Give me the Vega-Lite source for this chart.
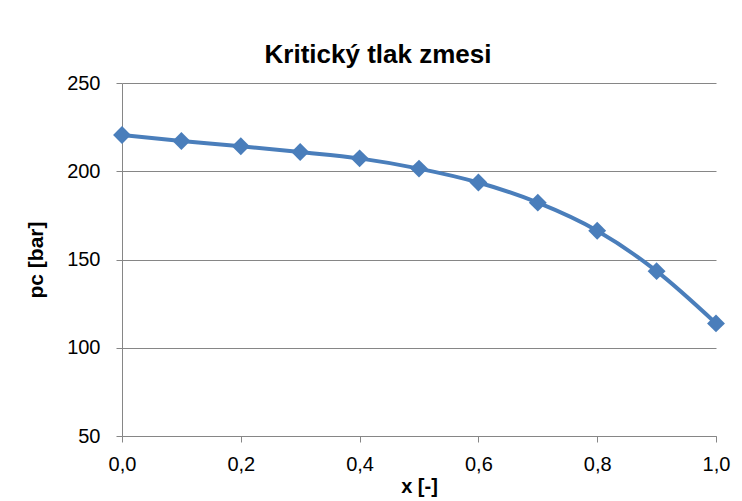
{
  "$schema": "https://vega.github.io/schema/vega-lite/v6.json",
  "width": 594,
  "height": 353,
  "autosize": {"type": "none"},
  "padding": {"left": 122, "top": 83, "right": 26, "bottom": 65},
  "background": "white",
  "title": {
    "text": "Kritický tlak zmesi",
    "font": "Liberation Sans",
    "fontSize": 26,
    "fontWeight": "bold",
    "color": "#000000",
    "anchor": "middle",
    "dx": -41,
    "offset": 5
  },
  "data": {
    "values": [
      {"x": 0.0, "pc": 220.5},
      {"x": 0.1, "pc": 217.1},
      {"x": 0.2, "pc": 214.2},
      {"x": 0.3, "pc": 210.9},
      {"x": 0.4, "pc": 207.3},
      {"x": 0.5, "pc": 201.5},
      {"x": 0.6, "pc": 193.6},
      {"x": 0.7, "pc": 182.2},
      {"x": 0.8, "pc": 166.3},
      {"x": 0.9, "pc": 143.4},
      {"x": 1.0, "pc": 113.8}
    ]
  },
  "encoding": {
    "x": {
      "field": "x",
      "type": "quantitative",
      "scale": {"domain": [0, 1], "nice": false, "zero": false},
      "axis": {
        "title": "x [-]",
        "values": [0, 0.2, 0.4, 0.6, 0.8, 1.0],
        "labelExpr": "replace(format(datum.value, '.1f'), '.', ',')",
        "labelFlush": false,
        "grid": false,
        "domainColor": "#868686",
        "tickColor": "#868686",
        "tickSize": 6,
        "labelFont": "Liberation Sans",
        "labelFontSize": 20,
        "labelColor": "#000000",
        "labelPadding": 12,
        "titleFont": "Liberation Sans",
        "titleFontSize": 20,
        "titleFontWeight": "bold",
        "titleColor": "#000000",
        "titlePadding": 2
      }
    },
    "y": {
      "field": "pc",
      "type": "quantitative",
      "scale": {"domain": [50, 250], "nice": false, "zero": false},
      "axis": {
        "title": "pc [bar]",
        "values": [50, 100, 150, 200, 250],
        "grid": true,
        "gridColor": "#868686",
        "gridWidth": 1,
        "domainColor": "#868686",
        "tickColor": "#868686",
        "tickSize": 6,
        "labelFont": "Liberation Sans",
        "labelFontSize": 20,
        "labelColor": "#000000",
        "labelPadding": 16,
        "titleFont": "Liberation Sans",
        "titleFontSize": 21,
        "titleFontWeight": "bold",
        "titleColor": "#000000",
        "titlePadding": 20
      }
    }
  },
  "layer": [
    {
      "mark": {"type": "line", "interpolate": "monotone", "color": "#4A7EBB", "strokeWidth": 4}
    },
    {
      "mark": {"type": "point", "shape": "diamond", "filled": true, "size": 320, "color": "#4A7EBB", "opacity": 1}
    }
  ],
  "config": {
    "view": {"stroke": null}
  }
}
